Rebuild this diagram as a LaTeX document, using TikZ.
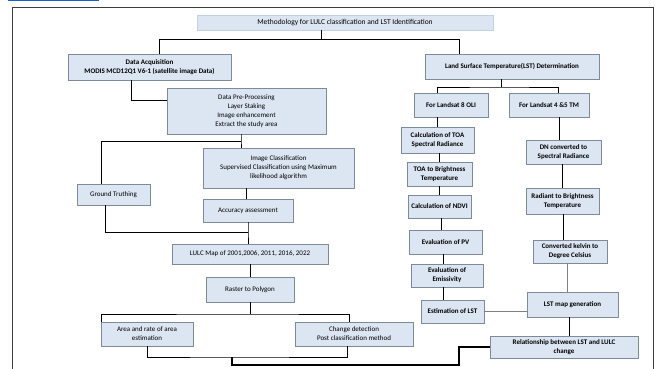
\documentclass[tikz,border=0pt]{standalone}
\usepackage{fontspec}
\setmainfont{Carlito}
\definecolor{boxfill}{HTML}{DCE6F2}
\definecolor{boxline}{HTML}{7D8A99}
\definecolor{titleline}{HTML}{C3D1E4}
\definecolor{framecol}{HTML}{3C3C3C}
\definecolor{linkblue}{HTML}{1F5FBF}

\begin{document}
\begin{tikzpicture}[x=1pt, y=-1pt,
    box/.style={draw=boxline, fill=boxfill, line width=0.6pt, align=center,
        inner sep=0pt, font=\fontsize{7}{9}\selectfont},
    hbox/.style={box, font=\fontsize{7}{9}\selectfont\bfseries},
    link/.style={line width=0.8pt},
    heavy/.style={line width=1.8pt}]
    \useasboundingbox (0,0) rectangle (656,369);
    \fill[linkblue] (8,0) rectangle (99,1.3);
    \draw[framecol, line width=0.9pt] (12,375) -- (12,7) -- (653,7) -- (653,375);

    % title
    \node[box, draw=titleline, minimum width=296pt, minimum height=15pt,
        font=\fontsize{7.5}{9}\selectfont] (title) at (345,22.5)
        {Methodology for LULC classification and LST Identification};

    % LULC side
    \node[hbox, minimum width=163pt, minimum height=26pt] (dacq) at (149.5,67)
        {Data Acquisition\\MODIS MCD12Q1 V6-1 (satellite image Data)};
    \node[box, minimum width=159pt, minimum height=46pt] (prep) at (246.5,111)
        {Data Pre-Processing\\Layer Staking\\Image enhancement\\Extract the study area};
    \node[box, minimum width=151pt, minimum height=40pt] (imgcls) at (278.5,168)
        {Image Classification\\Supervised Classification using Maximum\\likelihood algorithm};
    \node[box, minimum width=90pt, minimum height=23pt] (acc) at (248,210.5)
        {Accuracy assessment};
    \node[box, minimum width=73pt, minimum height=21pt] (ground) at (113.5,194.5)
        {Ground Truthing};
    \node[box, minimum width=156pt, minimum height=20pt] (lulc) at (250,254)
        {LULC Map of 2001,2006, 2011, 2016, 2022};
    \node[box, minimum width=88pt, minimum height=25pt] (raster) at (250,289.5)
        {Raster to Polygon};
    \node[box, minimum width=92pt, minimum height=24pt] (area) at (147,334)
        {Area and rate of area\\estimation};
    \node[box, minimum width=118pt, minimum height=24pt] (change) at (354,334)
        {Change detection\\Post classification method};

    % LST side
    \node[hbox, minimum width=174pt, minimum height=25pt] (lstdet) at (512,66.5)
        {Land Surface Temperature(LST) Determination};
    \node[hbox, minimum width=74pt, minimum height=24pt] (l8) at (451,105)
        {For Landsat 8 OLI};
    \node[hbox, minimum width=80pt, minimum height=24pt] (l45) at (549,105)
        {For Landsat 4 \&5 TM};
    \node[hbox, minimum width=73pt, minimum height=26pt] (toa) at (437.5,140)
        {Calculation of TOA\\Spectral Radiance};
    \node[hbox, minimum width=65pt, minimum height=24pt] (toabt) at (439.5,174)
        {TOA to Brightness\\Temperature};
    \node[hbox, minimum width=63pt, minimum height=23pt] (ndvi) at (439.5,206.5)
        {Calculation of NDVI};
    \node[hbox, minimum width=73pt, minimum height=24pt] (pv) at (445.5,242)
        {Evaluation of PV};
    \node[hbox, minimum width=72pt, minimum height=23pt] (emis) at (447,275.5)
        {Evaluation of\\Emissivity};
    \node[hbox, minimum width=63pt, minimum height=23pt] (estlst) at (452.5,311.5)
        {Estimation of LST};
    \node[hbox, minimum width=75pt, minimum height=24pt] (dn) at (563.5,152)
        {DN converted to\\Spectral Radiance};
    \node[hbox, minimum width=73pt, minimum height=26pt] (rad) at (562.5,201)
        {Radiant to Brightness\\Temperature};
    \node[hbox, minimum width=74pt, minimum height=23pt] (kelvin) at (570,251.5)
        {Converted kelvin to\\Degree Celsius};
    \node[hbox, minimum width=91pt, minimum height=25pt] (lstmap) at (572.5,304.5)
        {LST map generation};
    \node[hbox, minimum width=148pt, minimum height=22pt] (rel) at (564,347)
        {Relationship between LST and LULC\\change};

    % branch points
    \coordinate (tj) at (321,39);
    \coordinate (pj) at (241,141);
    \coordinate (aj) at (248,232);
    \coordinate (rj) at (250,314);
    \coordinate (bj) at (232,357);
    \coordinate (bk) at (459,365);
    \coordinate (lj) at (501,87);

    % connectors, LULC side
    \draw[link] (title.south -| tj) -- (tj);
    \draw[link] ([xshift=9.5pt]dacq.north) |- (tj);
    \draw[link] ([xshift=-53pt]lstdet.north) |- (tj);
    \draw[link] ([xshift=-18.5pt]dacq.south) |- ([yshift=11pt]prep.west);
    \draw[link] (prep.south -| pj) -- (pj) -- (pj |- imgcls.north);
    \draw[link] (pj) -| ([xshift=-12.5pt]ground.north);
    \draw[link] ([xshift=-2pt]acc.north |- imgcls.south) -- ([xshift=-2pt]acc.north);
    \draw[link] (acc.south) -- (aj) -- (aj |- lulc.north);
    \draw[link] ([xshift=-8.5pt]ground.south) |- (aj);
    \draw[link] (lulc.south) -- (raster.north);
    \draw[link] (raster.south) -- (rj);
    \draw[link] ([xshift=-46pt]area.north) |- (rj) -| ([xshift=-5pt]change.north);
    \draw[link] (area.south) |- (bj) -| ([xshift=-7pt]change.south);
    \draw[heavy] (bj) |- (bk) |- (rel.west);

    % connectors, LST side
    \draw[link] ([xshift=-11pt]lstdet.south) -- (lj);
    \draw[link] ([xshift=-14pt]l8.north) |- (lj) -| ([xshift=9pt]l45.north);
    \draw[link] (toa.north |- l8.south) -- (toa.north);
    \draw[link] (toabt.north |- toa.south) -- (toabt.north);
    \draw[link] (ndvi.north |- toabt.south) -- (ndvi.north);
    \draw[link] ([xshift=-4pt]pv.north |- ndvi.south) -- ([xshift=-4pt]pv.north);
    \draw[link] ([xshift=-4pt]emis.north |- pv.south) -- ([xshift=-4pt]emis.north);
    \draw[link] ([xshift=-9.5pt]estlst.north |- emis.south) -- ([xshift=-9.5pt]estlst.north);
    \draw[link, gray, line width=0.5pt] (estlst.east) -- (estlst.east -| lstmap.west);
    \draw[link] ([xshift=-4.5pt]dn.north |- l45.south) -- ([xshift=-4.5pt]dn.north);
    \draw[link] (rad.north |- dn.south) -- (rad.north);
    \draw[link] ([xshift=-7pt]kelvin.north |- rad.south) -- ([xshift=-7pt]kelvin.north);
    \draw[link, gray, line width=0.5pt] ([xshift=-5.5pt]lstmap.north |- kelvin.south) -- ([xshift=-5.5pt]lstmap.north);
    \draw[link] ([xshift=5pt]rel.north |- lstmap.south) -- ([xshift=5pt]rel.north);
\end{tikzpicture}
\end{document}
